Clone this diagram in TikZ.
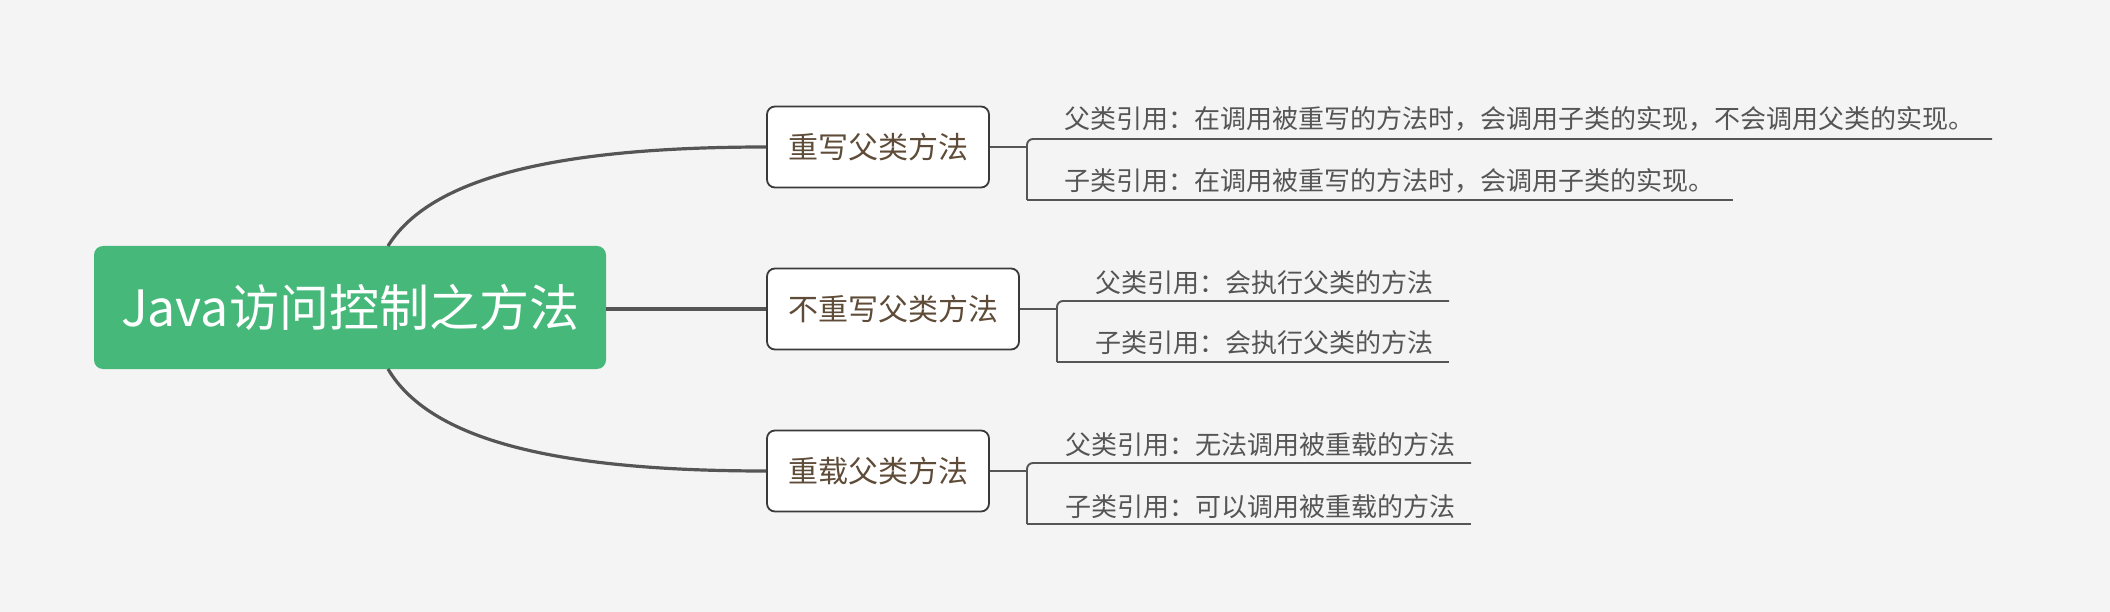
\documentclass[tikz,border=0pt]{standalone}
\usepackage{fontspec}
\setmainfont{Noto Sans CJK SC}
\begin{document}
\begin{tikzpicture}[x=1pt,y=-1pt,
  rootbox/.style={draw=none,fill=rootgreen,rounded corners=9pt,text=white,
    minimum width=512pt,minimum height=123pt,inner sep=0pt,
    font=\fontsize{50}{58}\selectfont},
  topic/.style={draw=boxborder,line width=1.8pt,fill=white,rounded corners=8pt,
    text=topictext,minimum height=81pt,inner sep=0pt,
    font=\fontsize{30}{36}\selectfont},
  leaf/.style={anchor=west,inner sep=0pt,text=leaftext,
    font=\fontsize{26}{30}\selectfont},
  mainline/.style={draw=linegray,line width=3.2pt},
  br/.style={draw=linegray,line width=1.9pt}
]
\definecolor{bg}{HTML}{F4F4F4}
\definecolor{rootgreen}{HTML}{46B97A}
\definecolor{linegray}{HTML}{555555}
\definecolor{boxborder}{HTML}{3A3A3A}
\definecolor{topictext}{HTML}{5E4B38}
\definecolor{leaftext}{HTML}{555555}
\fill[bg] (0,0) rectangle (2110,612);
\useasboundingbox (0,0) rectangle (2110,612);

% root
\node[rootbox] (root) at (350,307.5) {Java访问控制之方法};

% topics
\node[topic,minimum width=222pt] (n1) at (878,147) {重写父类方法};
\node[topic,minimum width=252pt] (n2) at (893,309) {不重写父类方法};
\node[topic,minimum width=222pt] (n3) at (878,471) {重载父类方法};

% root connectors
\coordinate (rt) at (388,246);
\coordinate (rb) at (388,369);
\draw[mainline] (rt) .. controls (430,178) and (555,147) .. (n1.west);
\draw[mainline] (root.east |- n2.west) -- (n2.west);
\draw[mainline] (rb) .. controls (430,440) and (555,471) .. (n3.west);

% leaves of topic 1
\node[leaf] (l11) at (1064,119) {父类引用：在调用被重写的方法时，会调用子类的实现，不会调用父类的实现。};
\node[leaf] (l12) at (1064,181) {子类引用：在调用被重写的方法时，会调用子类的实现。};
\coordinate (j1) at (1027,147);
\coordinate (u1) at (1992,139);
\coordinate (d1) at (1733,200);
\draw[br] (n1.east) -- (j1);
\draw[br,rounded corners=6pt] (j1 |- d1) -- (j1 |- u1) -- (u1);
\draw[br] (j1 |- d1) -- (d1);

% leaves of topic 2
\node[leaf] (l21) at (1095,283) {父类引用：会执行父类的方法};
\node[leaf] (l22) at (1095,343) {子类引用：会执行父类的方法};
\coordinate (j2) at (1057,309);
\coordinate (u2) at (1449,301);
\coordinate (d2) at (1449,362);
\draw[br] (n2.east) -- (j2);
\draw[br,rounded corners=6pt] (j2 |- d2) -- (j2 |- u2) -- (u2);
\draw[br] (j2 |- d2) -- (d2);

% leaves of topic 3
\node[leaf] (l31) at (1065,445) {父类引用：无法调用被重载的方法};
\node[leaf] (l32) at (1065,507) {子类引用：可以调用被重载的方法};
\coordinate (j3) at (1027,471);
\coordinate (u3) at (1471,463);
\coordinate (d3) at (1471,524);
\draw[br] (n3.east) -- (j3);
\draw[br,rounded corners=6pt] (j3 |- d3) -- (j3 |- u3) -- (u3);
\draw[br] (j3 |- d3) -- (d3);
\end{tikzpicture}
\end{document}
